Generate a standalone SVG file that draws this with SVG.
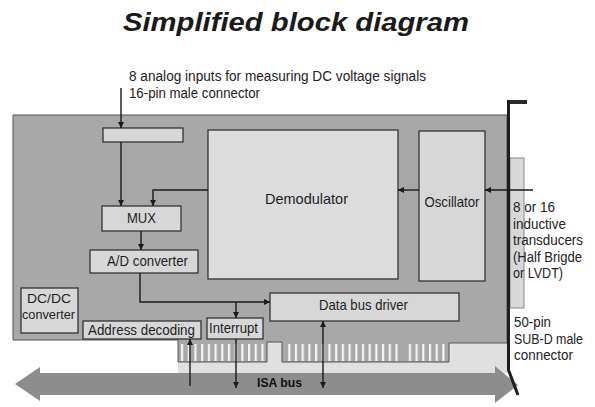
<svg xmlns="http://www.w3.org/2000/svg" width="595" height="407" viewBox="0 0 595 407">
<style>
  .t{font-family:"Liberation Sans",Arial,sans-serif;font-size:15px;fill:#1e1e1e}
  .s{font-family:"Liberation Sans",Arial,sans-serif;font-size:14px;fill:#222}
  .d{font-family:"Liberation Sans",Arial,sans-serif;font-size:12.5px;fill:#1e1e1e}
  .box{fill:#d7d7d7;stroke:#333;stroke-width:1.3}
  .con{fill:none;stroke:#1a1a1a;stroke-width:1.4}
</style>
<defs>
  <marker id="ah" viewBox="0 0 10 10" refX="10" refY="5" markerWidth="6" markerHeight="6" orient="auto-start-reverse" markerUnits="userSpaceOnUse">
    <path d="M0,0 L10,5 L0,10 z" fill="#1a1a1a"/>
  </marker>
  <pattern id="fingers" patternUnits="userSpaceOnUse" x="181" y="0" width="6.7" height="20">
    <rect x="0" y="0" width="2.2" height="20" fill="#f4f4f4"/>
  </pattern>
</defs>
<rect width="595" height="407" fill="#ffffff"/>
<text x="296" y="31" text-anchor="middle" textLength="346" lengthAdjust="spacingAndGlyphs" style="font-family:'Liberation Sans',Arial,sans-serif;font-size:25px;font-weight:bold;font-style:italic;fill:#1a1a1a">Simplified block diagram</text>
<text class="s" x="129" y="81" textLength="297" lengthAdjust="spacingAndGlyphs">8 analog inputs for measuring DC voltage signals</text>
<text class="s" x="129" y="98" textLength="131" lengthAdjust="spacingAndGlyphs">16-pin male connector</text>

<g id="board">
  <rect x="178" y="338" width="330" height="35" fill="#e0e0e0"/>
  <polygon points="13,115 507,115 507,343 449,343 449,362 282,362 282,342 267,342 267,362 178,362 178,340 13,340" fill="#a8a8a8" stroke="#555" stroke-width="1"/>
  <rect x="179" y="344" width="86" height="17" fill="url(#fingers)"/>
  <rect x="284" y="344" width="116" height="17" fill="url(#fingers)"/>
  <rect x="407" y="344" width="40" height="17" fill="url(#fingers)"/>
</g>

<g id="isa-bus">
  <polygon points="15,384 40,367 40,373 495,373 495,366 518,385 495,403 495,395 40,395 40,401" fill="#8d8d8d"/>
  <text x="257" y="387" textLength="45" lengthAdjust="spacingAndGlyphs" style="font-family:'Liberation Sans',Arial,sans-serif;font-size:13px;font-weight:bold;fill:#111">ISA bus</text>
</g>

<g id="bracket">
  <rect x="510" y="158" width="14" height="150" fill="#d8d8d8" stroke="#8a8a8a" stroke-width="1"/>
  <rect x="507" y="100" width="20" height="4" fill="#2a2a2a"/>
  <polyline points="508.5,100 508.5,370 518,395" fill="none" stroke="#1e1e1e" stroke-width="3"/>
</g>

<g id="input-connector">
  <rect class="box" x="103" y="128" width="80" height="14"/>
</g>
<g id="mux">
  <rect class="box" x="102" y="206" width="79" height="25"/>
  <text class="t" x="141.5" y="223" text-anchor="middle" textLength="29" lengthAdjust="spacingAndGlyphs">MUX</text>
</g>
<g id="demodulator">
  <rect class="box" x="208" y="130" width="190" height="149" style="fill:#dcdcdc"/>
  <text class="t" x="306.5" y="204" text-anchor="middle" textLength="83" lengthAdjust="spacingAndGlyphs">Demodulator</text>
</g>
<g id="oscillator">
  <rect class="box" x="419" y="131" width="66" height="150"/>
  <text class="t" x="452" y="207" text-anchor="middle" textLength="55" lengthAdjust="spacingAndGlyphs">Oscillator</text>
</g>
<g id="ad-converter">
  <rect class="box" x="90" y="250" width="108" height="23"/>
  <text class="t" x="147.5" y="266" text-anchor="middle" textLength="81" lengthAdjust="spacingAndGlyphs">A/D converter</text>
</g>
<g id="data-bus-driver">
  <rect class="box" x="270" y="293" width="189" height="28"/>
  <text class="t" x="363.5" y="310" text-anchor="middle" textLength="89" lengthAdjust="spacingAndGlyphs">Data bus driver</text>
</g>
<g id="interrupt">
  <rect class="box" x="207" y="318" width="56" height="21"/>
  <text class="t" x="233.5" y="333" text-anchor="middle" textLength="49" lengthAdjust="spacingAndGlyphs">Interrupt</text>
</g>
<g id="address-decoding">
  <rect class="box" x="83" y="321" width="118" height="18"/>
  <text class="t" x="141.5" y="334.5" text-anchor="middle" textLength="107" lengthAdjust="spacingAndGlyphs">Address decoding</text>
</g>
<g id="dcdc-converter">
  <rect class="box" x="21" y="288" width="57" height="45"/>
  <text class="d" x="49" y="303" text-anchor="middle" textLength="44" lengthAdjust="spacingAndGlyphs">DC/DC</text>
  <text class="d" x="48.5" y="318.5" text-anchor="middle" textLength="53" lengthAdjust="spacingAndGlyphs">converter</text>
</g>

<g id="transducer-label">
  <text class="s" x="513" y="212" textLength="42" lengthAdjust="spacingAndGlyphs">8 or 16</text>
  <text class="s" x="513" y="228.5" textLength="53" lengthAdjust="spacingAndGlyphs">inductive</text>
  <text class="s" x="513" y="245" textLength="70" lengthAdjust="spacingAndGlyphs">transducers</text>
  <text class="s" x="513" y="261.5" textLength="69" lengthAdjust="spacingAndGlyphs">(Half Brigde</text>
  <text class="s" x="513" y="278" textLength="50" lengthAdjust="spacingAndGlyphs">or LVDT)</text>
</g>
<g id="subd-label">
  <text class="s" x="514" y="327" textLength="37" lengthAdjust="spacingAndGlyphs">50-pin</text>
  <text class="s" x="514" y="344" textLength="69" lengthAdjust="spacingAndGlyphs">SUB-D male</text>
  <text class="s" x="514" y="360" textLength="59" lengthAdjust="spacingAndGlyphs">connector</text>
</g>

<g id="connectors">
  <path class="con" d="M121,88 V128" marker-end="url(#ah)"/>
  <path class="con" d="M121,142 V206" marker-end="url(#ah)"/>
  <path class="con" d="M208,190 H153 V206" marker-end="url(#ah)"/>
  <path class="con" d="M419,190 H398" marker-end="url(#ah)"/>
  <path class="con" d="M533,190 H485" marker-end="url(#ah)"/>
  <path class="con" d="M141,231 V250" marker-end="url(#ah)"/>
  <path class="con" d="M140,273 V302 H270" marker-end="url(#ah)"/>
  <path class="con" d="M236,302 V318" marker-end="url(#ah)"/>
  <path class="con" d="M190,386 V339" marker-end="url(#ah)"/>
  <path class="con" d="M236,339 V388" marker-end="url(#ah)"/>
  <path class="con" d="M323,321 V388" marker-start="url(#ah)" marker-end="url(#ah)"/>
</g>
</svg>
